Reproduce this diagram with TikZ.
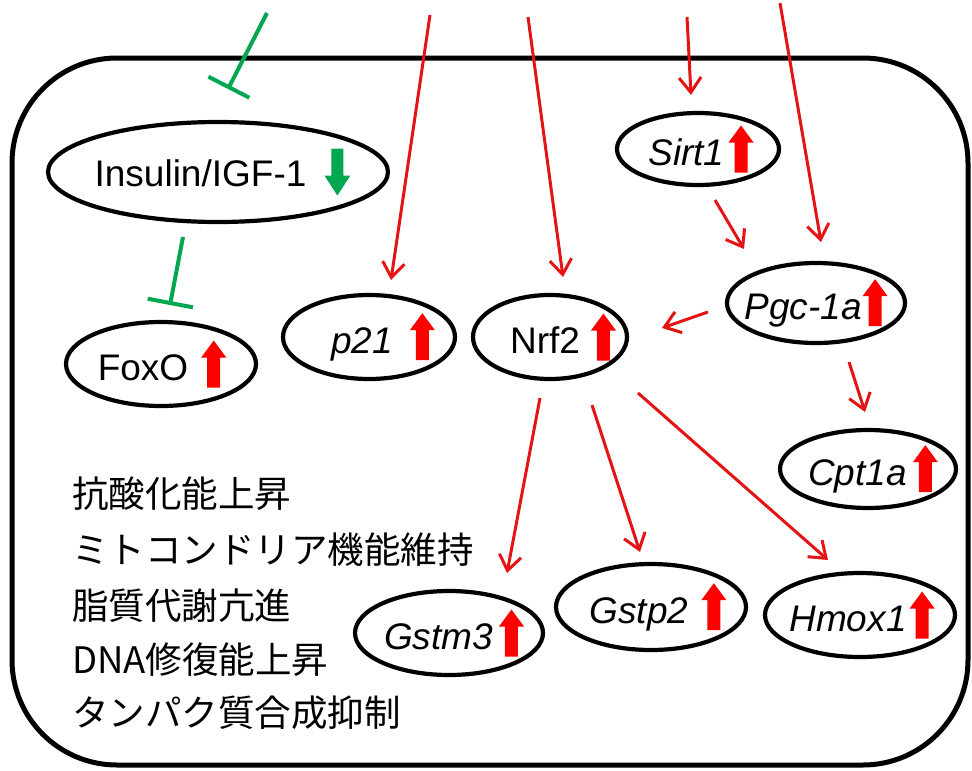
\documentclass[tikz,border=0pt]{standalone}
\usepackage{fontspec}
\setmainfont{Liberation Sans}
\newfontfamily\jpfont{Noto Sans CJK JP}
\usetikzlibrary{arrows.meta,shapes.geometric,calc}
\definecolor{grn}{RGB}{0,166,80}
\definecolor{rdline}{RGB}{228,20,20}
\definecolor{rdblock}{RGB}{255,0,0}
\newcommand{\redup}{\tikz[baseline=7pt]{\fill[rdblock] (-6.5pt,0pt) -- (6.5pt,0pt) -- (6.5pt,30pt) -- (12.5pt,30pt) -- (0pt,47pt) -- (-12.5pt,30pt) -- (-6.5pt,30pt) -- cycle;}}
\newcommand{\grdown}{\tikz[baseline=9pt]{\fill[grn] (-6pt,47pt) -- (6pt,47pt) -- (6pt,20pt) -- (13pt,20pt) -- (0pt,0pt) -- (-13pt,20pt) -- (-6pt,20pt) -- cycle;}}
\newcommand{\cont}[2]{\makebox[0pt]{\hspace*{#1pt}#2}}
\begin{document}
\begin{tikzpicture}[x=1pt,y=-1pt,
  gene/.style={draw, ellipse, line width=4.2pt, inner sep=0pt, font=\fontsize{37}{40}\selectfont},
  act/.style={draw=rdline, line width=3pt, -{Straight Barb[length=15pt,width=22pt]}},
  inh/.style={draw=grn, line width=4pt, -{Bar[width=46pt]}},
  jp/.style={anchor=west, inner sep=0pt, font=\jpfont\fontsize{36.5}{40}\selectfont}]

\useasboundingbox (0,0) rectangle (972,771);
\draw[line width=5pt, rounded corners=105pt] (12,58) rectangle (968,765);

% nodes
\node[gene, minimum width=340pt, minimum height=100pt] (ins) at (218,172) {\cont{9}{Insulin/IGF-1\hspace{18pt}\grdown}};
\node[gene, minimum width=190pt, minimum height=84pt] (foxo) at (161,364) {\cont{2}{FoxO\hspace{13pt}\redup}};
\node[gene, minimum width=172pt, minimum height=84pt] (p21) at (369,337) {\cont{28}{\textit{p21}\hspace{17pt}\redup}};
\node[gene, minimum width=154pt, minimum height=84pt] (nrf2) at (550,337) {\cont{26}{Nrf2\hspace{11pt}\redup}};
\node[gene, minimum width=162pt, minimum height=72pt] (sirt1) at (698,149) {\cont{6}{\textit{Sirt1}\hspace{4pt}\redup}};
\node[gene, minimum width=178pt, minimum height=80pt] (pgc) at (816,303) {\cont{0}{\textit{Pgc-1a}\hspace{1pt}\redup}};
\node[gene, minimum width=176pt, minimum height=78pt] (cpt) at (868,469) {\cont{10}{\textit{Cpt1a}\hspace{6pt}\redup}};
\node[gene, minimum width=188pt, minimum height=84pt] (gstm3) at (449,633) {\cont{10}{\textit{Gstm3}\hspace{6pt}\redup}};
\node[gene, minimum width=190pt, minimum height=86pt] (gstp2) at (651,607) {\cont{14}{\textit{Gstp2}\hspace{13pt}\redup}};
\node[gene, minimum width=190pt, minimum height=84pt] (hmox) at (860,615) {\cont{4}{\textit{Hmox1}\hspace{3pt}\redup}};

% free ends
\coordinate (g0) at (267,13);
\coordinate (a1) at (430,15);
\coordinate (a2) at (528,17);
\coordinate (a3) at (687,17);
\coordinate (a4) at (780,3);

% inhibitions
\draw[inh] (g0) -- ($(ins.center)+(10,-83)$);
\draw[inh] ($(ins.center)+(-35,65)$) -- ($(foxo.center)+(9,-59)$);

% activations
\draw[act] (a1) -- ($(p21.center)+(22,-57)$);
\draw[act] (a2) -- ($(nrf2.center)+(13,-60)$);
\draw[act] (a3) -- ($(sirt1.center)+(-7,-54)$);
\draw[act] (a4) -- ($(pgc.center)+(5,-61)$);
\draw[act] ($(sirt1.center)+(17,51)$) -- ($(pgc.center)+(-72,-54)$);
\draw[act] ($(pgc.center)+(-108,9)$) -- ($(nrf2.center)+(112,-9)$);
\draw[act] ($(pgc.center)+(33,59)$) -- ($(cpt.center)+(-3,-57)$);
\draw[act] ($(nrf2.center)+(-10,61)$) -- ($(gstm3.center)+(58,-60)$);
\draw[act] ($(nrf2.center)+(42,68)$) -- ($(gstp2.center)+(-11,-55)$);
\draw[act] ($(nrf2.center)+(88,56)$) -- ($(hmox.center)+(-32,-55)$);

% Japanese text
\node[jp] (t1) at (72,494) {抗酸化能上昇};
\node[jp] (t2) at (72,550) {ミトコンドリア機能維持};
\node[jp] (t3) at (72,606) {脂質代謝亢進};
\node[jp] (t4) at (72,660) {DNA修復能上昇};
\node[jp] (t5) at (72,713) {タンパク質合成抑制};
\end{tikzpicture}
\end{document}
